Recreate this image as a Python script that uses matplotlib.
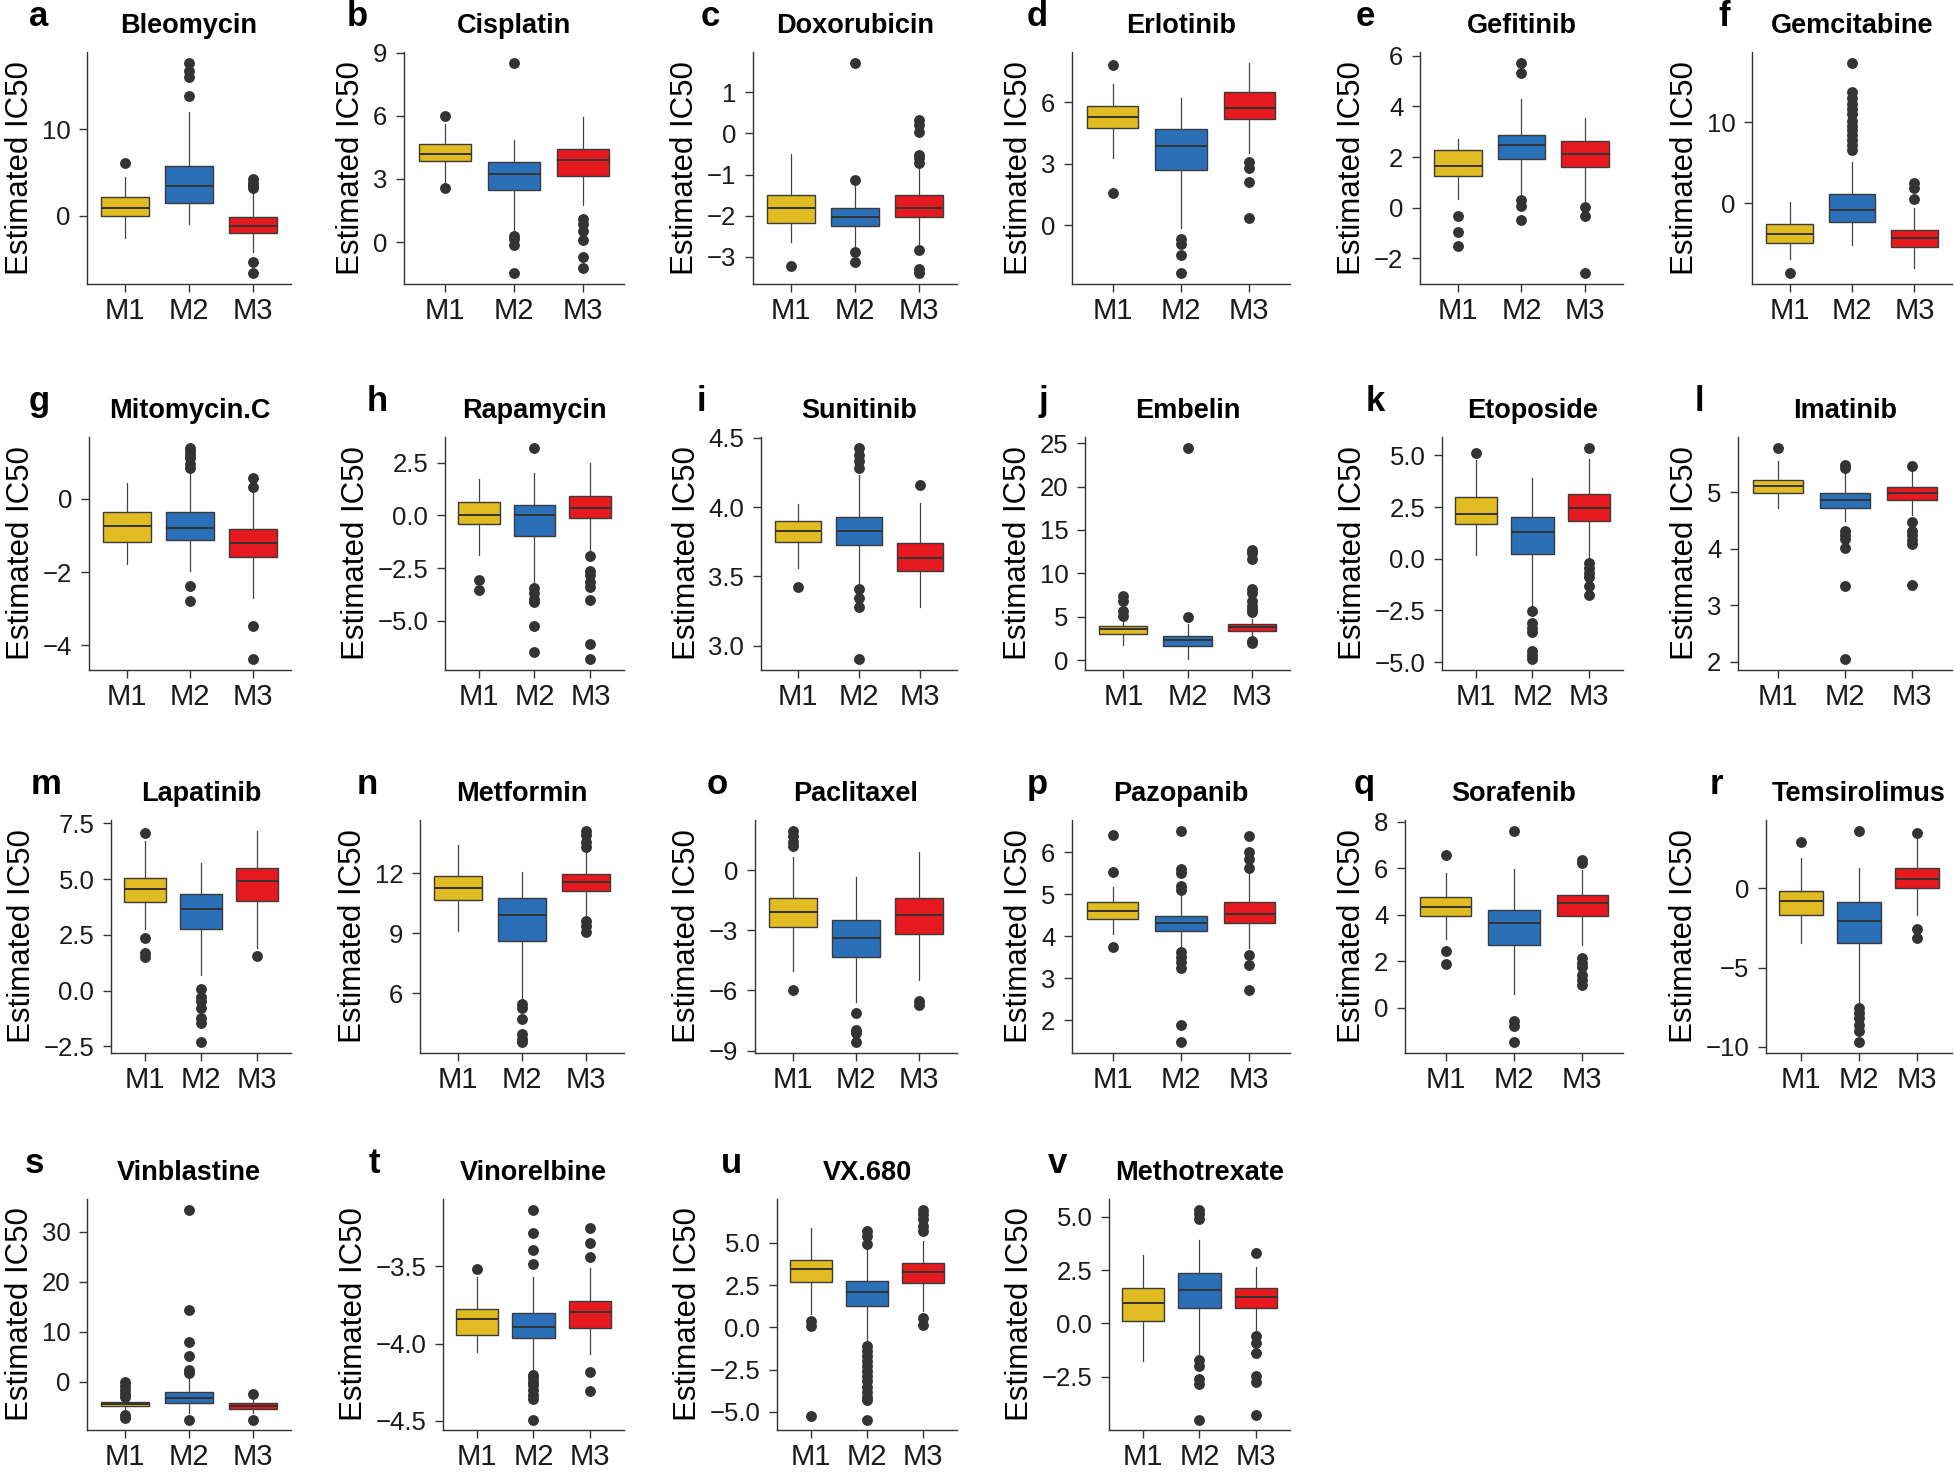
import matplotlib
matplotlib.use("Agg")
import matplotlib.pyplot as plt

# drug panels (box stats per group M1, M2, M3)
drugs = ["Bleomycin", "Cisplatin", "Doxorubicin", "Erlotinib", "Gefitinib", "Gemcitabine",
         "Mitomycin.C", "Rapamycin", "Sunitinib", "Embelin", "Etoposide", "Imatinib",
         "Lapatinib", "Metformin", "Paclitaxel", "Pazopanib", "Sorafenib", "Temsirolimus",
         "Vinblastine", "Vinorelbine", "VX.680", "Methotrexate"]
letters = list("abcdefghijklmnopqrstuv")
groups = ["M1", "M2", "M3"]
colors = ["#E0BB22", "#2970B9", "#E6191E"]

med = [[0.95, 3.5, -1.15], [4.19, 3.25, 3.88], [-1.82, -2.02, -1.8], [5.28, 3.87, 5.71],
       [1.66, 2.46, 2.1], [-3.82, -0.85, -4.31], [-0.75, -0.79, -1.2], [0.0, 0.02, 0.36],
       [3.83, 3.83, 3.63], [3.58, 2.31, 3.77], [2.18, 1.3, 2.44], [5.11, 4.87, 4.99],
       [4.57, 3.66, 4.91], [11.28, 9.91, 11.56], [-2.09, -3.4, -2.25], [4.6, 4.3, 4.53],
       [4.34, 3.64, 4.5], [-0.77, -2.03, 0.63], [-4.42, -3.3, -4.81], [-3.84, -3.892, -3.795],
       [3.45, 2.12, 3.29], [0.98, 1.55, 1.23]]
q1 = [[0.0, 1.45, -2.0], [3.83, 2.46, 3.16], [-2.18, -2.24, -2.02], [4.75, 2.71, 5.2],
      [1.24, 1.92, 1.6], [-4.96, -2.32, -5.37], [-1.18, -1.14, -1.58], [-0.41, -0.97, -0.14],
      [3.75, 3.73, 3.54], [3.0, 1.62, 3.35], [1.66, 0.25, 1.82], [4.99, 4.72, 4.86],
      [3.97, 2.74, 4.0], [10.68, 8.63, 11.13], [-2.84, -4.32, -3.17], [4.41, 4.12, 4.3],
      [3.94, 2.67, 3.94], [-1.65, -3.45, 0.0], [-4.94, -4.22, -5.41], [-3.945, -3.966, -3.9],
      [2.68, 1.25, 2.6], [0.11, 0.73, 0.73]]
q3 = [[2.17, 5.7, -0.08], [4.65, 3.82, 4.41], [-1.5, -1.82, -1.5], [5.79, 4.69, 6.48],
      [2.26, 2.88, 2.63], [-2.6, 1.14, -3.29], [-0.36, -0.36, -0.82], [0.61, 0.5, 0.91],
      [3.90, 3.93, 3.74], [3.88, 2.73, 4.15], [2.99, 2.03, 3.12], [5.22, 4.98, 5.09],
      [5.06, 4.35, 5.49], [11.87, 10.77, 11.98], [-1.4, -2.48, -1.41], [4.81, 4.48, 4.81],
      [4.76, 4.21, 4.86], [-0.19, -0.84, 1.32], [-4.02, -2.11, -4.28], [-3.776, -3.805, -3.727],
      [3.99, 2.74, 3.8], [1.68, 2.35, 1.65]]
wlo = [[-2.55, -0.95, -4.2], [2.85, 0.55, 1.77], [-2.64, -2.76, -2.68], [3.3, -0.14, 3.52],
       [0.35, 0.52, 0.26], [-6.87, -5.12, -7.97], [-1.79, -1.98, -2.71], [-1.87, -3.16, -1.67],
       [3.56, 3.45, 3.28], [1.77, 0.08, 2.62], [0.16, -2.33, 0.0], [4.72, 4.49, 4.6],
       [2.74, 0.7, 1.89], [9.12, 5.59, 9.78], [-5.01, -6.6, -5.5], [4.05, 3.7, 3.71],
       [2.94, 0.57, 2.69], [-3.45, -7.18, -1.67], [-5.93, -6.26, -6.26], [-4.055, -4.172, -4.066],
       [0.81, -0.83, 0.96], [-1.75, -1.55, -0.43]]
whi = [[4.45, 12.0, 2.9], [5.63, 4.85, 5.95], [-0.5, -1.28, -0.84], [6.89, 6.2, 7.93],
       [2.71, 4.3, 3.56], [0.12, 5.12, -0.57], [0.43, 0.79, 0.25], [1.71, 2.0, 2.47],
       [4.02, 4.23, 4.03], [4.35, 4.15, 4.73], [4.79, 3.92, 4.84], [5.55, 5.39, 5.38],
       [6.7, 5.74, 7.17], [13.4, 12.05, 13.07], [0.66, -0.36, 0.9], [5.17, 4.95, 5.56],
       [5.8, 5.96, 5.9], [1.95, 1.32, 3.24], [-3.63, 0.66, -3.63], [-3.57, -3.57, -3.511],
       [5.88, 4.57, 5.13], [3.23, 3.93, 2.64]]
fliers = [
    [[6.1], [17.7, 16.7, 16.0, 13.8], [4.2, 3.8, 3.5, 3.2, -5.3, -6.65]],
    [[5.98, 2.55], [8.53, 0.3, 0.15, -0.15, -1.49], [1.1, 0.86, 0.55, 0.1, -0.7, -1.25]],
    [[-3.22], [1.72, -1.12, -2.88, -3.12], [0.32, 0.2, 0.04, -0.52, -0.6, -0.72, -2.84, -3.28, -3.4]],
    [[7.82, 1.59], [-0.66, -0.9, -1.46, -2.34], [3.11, 2.79, 2.1, 0.35]],
    [[-0.33, -0.98, -1.54], [5.74, 5.32, 0.3, 0.07, -0.48], [0.03, -0.33, -2.61]],
    [[-8.7], [17.4, 13.7, 13.0, 12.3, 11.6, 11.0, 10.2, 9.6, 9.0, 8.4, 7.8, 7.2, 6.6], [2.48, 1.87, 0.53]],
    [[], [1.39, 1.3, 1.2, 1.1, 0.95, 0.83, -2.38, -2.79], [0.56, 0.32, -3.46, -4.38]],
    [[-3.08, -3.55], [3.21, -3.43, -3.68, -3.95, -4.1, -5.25, -6.48],
     [-1.93, -2.61, -2.8, -3.16, -3.4, -4.0, -6.1, -6.82]],
    [[3.42], [4.43, 4.38, 4.33, 4.28, 3.41, 3.34, 3.28, 2.9], [4.16]],
    [[7.35, 6.85, 5.62, 5.1], [24.5, 4.92], [12.7, 12.3, 11.65, 8.2, 7.7, 6.77, 6.27, 5.9, 5.5, 2.15, 1.92]],
    [[5.11], [-2.53, -3.13, -3.33, -3.53, -4.48, -4.67, -4.87], [5.38, -0.19, -0.43, -0.7, -0.9, -1.3, -1.74]],
    [[5.79], [5.48, 5.42, 4.32, 4.25, 4.18, 4.02, 3.34, 2.04], [5.47, 4.48, 4.31, 4.24, 4.15, 4.08, 3.35]],
    [[7.05, 2.38, 1.7, 1.52], [0.07, -0.27, -0.45, -0.79, -1.24, -1.46, -2.32], [1.55]],
    [[], [5.47, 5.26, 4.71, 3.94, 3.7, 3.53], [14.14, 13.9, 13.55, 13.3, 9.62, 9.37, 9.05]],
    [[1.97, 1.72, 1.4, 1.2, -5.96], [-7.11, -7.96, -8.1, -8.59], [-6.52, -6.73]],
    [[6.4, 5.52, 3.73], [6.51, 5.6, 5.5, 5.19, 5.09, 3.63, 3.51, 3.39, 3.23, 1.88, 1.47],
     [6.37, 6.0, 5.84, 5.63, 3.55, 3.31, 2.72]],
    [[6.54, 2.43, 1.86], [7.61, -0.6, -0.81, -1.5], [6.36, 6.21, 2.11, 1.9, 1.73, 1.4, 1.19, 0.97]],
    [[2.97], [3.66, -7.53, -7.85, -8.16, -8.64, -9.0, -9.73], [3.49, -2.55, -3.14]],
    [[0.0, -0.79, -1.65, -2.5, -3.16, -6.59, -7.25], [34.4, 14.37, 7.91, 5.14, 2.31, 1.65, -7.58], [-2.5, -7.58]],
    [[-3.515], [-3.133, -3.286, -3.398, -3.483, -4.2, -4.22, -4.25, -4.27, -4.3, -4.33, -4.36, -4.491],
     [-3.25, -3.351, -3.44, -4.187, -4.304]],
    [[0.39, 0.08, -5.26], [5.72, 5.43, 4.96, -1.1, -1.4, -1.7, -2.0, -2.3, -2.6, -2.9, -3.2, -3.5,
                           -3.8, -4.1, -4.3, -5.45], [6.98, 6.7, 6.4, 6.01, 5.72, 0.58, 0.13]],
    [[], [5.34, 5.11, 4.88, -1.71, -1.98, -2.59, -2.82, -4.5], [3.31, -0.61, -0.91, -1.4, -2.44, -2.74, -4.27]],
]
yticks = [["0", "10"], ["0", "3", "6", "9"], ["-3", "-2", "-1", "0", "1"], ["0", "3", "6"],
          ["-2", "0", "2", "4", "6"], ["0", "10"], ["-4", "-2", "0"], ["-5.0", "-2.5", "0.0", "2.5"],
          ["3.0", "3.5", "4.0", "4.5"], ["0", "5", "10", "15", "20", "25"],
          ["-5.0", "-2.5", "0.0", "2.5", "5.0"], ["2", "3", "4", "5"],
          ["-2.5", "0.0", "2.5", "5.0", "7.5"], ["6", "9", "12"], ["-9", "-6", "-3", "0"],
          ["2", "3", "4", "5", "6"], ["0", "2", "4", "6", "8"], ["-10", "-5", "0"],
          ["0", "10", "20", "30"], ["-4.5", "-4.0", "-3.5"], ["-5.0", "-2.5", "0.0", "2.5", "5.0"],
          ["-2.5", "0.0", "2.5", "5.0"]]

# layout in pixels of the 1956x1473 figure
W, H = 1956, 1473
ax_left = [87, 404, 753, 1072, 1420, 1752,
           89, 445, 761, 1085, 1442, 1738,
           111, 420, 755, 1072, 1405, 1766,
           87, 443, 777, 1109]
col_right = [291, 624, 957, 1290, 1623, 1952]
row_tb = [(52, 284), (437, 670), (820, 1053), (1199, 1430)]
letter_x = [29, 347, 701, 1027, 1356, 1718,
            29, 367, 697, 1039, 1366, 1695,
            31, 357, 707, 1027, 1354, 1710,
            25, 369, 721, 1048]

plt.rcParams['font.family'] = ['Liberation Sans', 'DejaVu Sans']
narrow = ['Liberation Sans Narrow', 'Liberation Sans', 'DejaVu Sans']
fig = plt.figure(figsize=(W / 100, H / 100), dpi=100)
ink = "#333333"

for i, drug in enumerate(drugs):
    r, c = divmod(i, 6)
    top, bot = row_tb[r]
    left = ax_left[i]
    ax = fig.add_axes([left / W, 1 - bot / H, (col_right[c] - left) / W, (bot - top) / H])

    stats = []
    for g in range(3):
        stats.append(dict(med=med[i][g], q1=q1[i][g], q3=q3[i][g],
                          whislo=wlo[i][g], whishi=whi[i][g], fliers=fliers[i][g]))
    bp = ax.bxp(stats, positions=[1, 2, 3], widths=0.75, patch_artist=True, showcaps=False,
                boxprops=dict(edgecolor="#3a3a3a", linewidth=1.0),
                medianprops=dict(color=ink, linewidth=1.4),
                whiskerprops=dict(color="#444444", linewidth=0.9),
                flierprops=dict(marker="o", markerfacecolor=ink, markeredgecolor=ink,
                                markersize=6.8))
    for patch, col in zip(bp["boxes"], colors):
        patch.set_facecolor(col)

    ax.set_xlim(0.4, 3.6)
    ax.set_xticks([1, 2, 3])
    ax.set_xticklabels(groups, fontsize=21, family=narrow)
    ticks = [float(t) for t in yticks[i]]
    ax.set_yticks(ticks)
    ax.set_yticklabels([t.replace("-", "\u2212") for t in yticks[i]], fontsize=18.5, family=narrow)
    ax.set_ylabel("Estimated IC50", fontsize=22.5, labelpad=5)
    ax.set_title(drug, fontsize=19.5, fontweight="bold", pad=14)

    for side in ["top", "right"]:
        ax.spines[side].set_visible(False)
    for side in ["left", "bottom"]:
        ax.spines[side].set_color(ink)
        ax.spines[side].set_linewidth(1.0)
    ax.tick_params(length=5.5, width=1.0, color=ink, labelcolor="#1a1a1a")
    ax.tick_params(axis="x", pad=4)
    ax.tick_params(axis="y", pad=6.5)

    fig.text(letter_x[i] / W, 1 - (top - 26) / H, letters[i], fontsize=25,
             fontweight="bold", va="baseline", ha="left")

fig.savefig("out.png", dpi=100)
